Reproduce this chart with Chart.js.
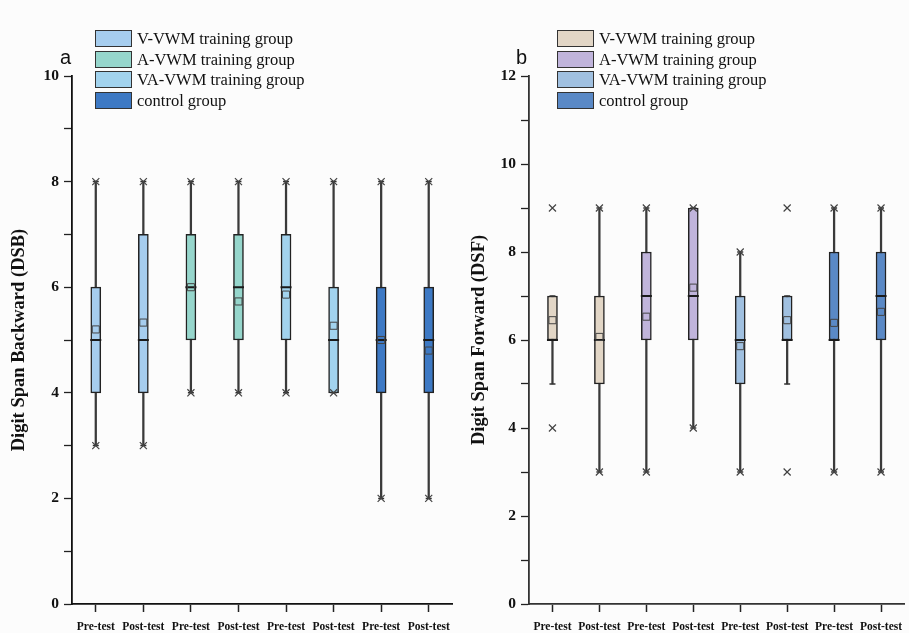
<!DOCTYPE html>
<html>
<head>
<meta charset="utf-8">
<script src="https://cdn.jsdelivr.net/npm/chart.js@4.4.1/dist/chart.umd.min.js"></script>
<style>
  html, body { margin: 0; padding: 0; background: #fcfcfc; width: 909px; height: 633px; overflow: hidden; }
  .wrap { position: absolute; top: 0; height: 633px; }
  #wrapA { left: 0; width: 460px; }
  #wrapB { left: 460px; width: 452px; }
  .panel { position: absolute; font-family: "Liberation Sans", Arial, sans-serif; font-size: 20px; color: #111; }
  .legend { position: absolute; font-family: "Liberation Serif", "Times New Roman", serif; font-size: 16.5px; color: #111; }
  .legend div { height: 20.5px; line-height: 20.5px; white-space: nowrap; }
  .legend span { display: inline-block; width: 35px; height: 15px; border: 1.5px solid #333; vertical-align: -3px; margin-right: 5px; }
</style>
</head>
<body>
<div class="wrap" id="wrapA"><canvas id="chartA"></canvas></div>
<div class="wrap" id="wrapB"><canvas id="chartB"></canvas></div>
<div class="panel" style="left:60px;top:46px;">a</div>
<div class="panel" style="left:516px;top:46px;">b</div>
<div class="legend" id="legendA" style="left:95px;top:29px;"></div>
<div class="legend" id="legendB" style="left:557px;top:29px;"></div>
<script>
// categories and groups
const categories = ["Pre-test", "Post-test", "Pre-test", "Post-test", "Pre-test", "Post-test", "Pre-test", "Post-test"]
const groups = ["V-VWM training group", "A-VWM training group", "VA-VWM training group", "control group"]

// panel a: Digit Span Backward
const dsbMin = [3, 3, 4, 4, 4, 4, 2, 2]
const dsbQ1 = [4, 4, 5, 5, 5, 4, 4, 4]
const dsbMedian = [5, 5, 6, 6, 6, 5, 5, 5]
const dsbQ3 = [6, 7, 7, 7, 7, 6, 6, 6]
const dsbMax = [8, 8, 8, 8, 8, 8, 8, 8]
const dsbMean = [5.2, 5.33, 6.0, 5.73, 5.86, 5.27, 5.0, 4.8]
const dsbTicks = [0, 2, 4, 6, 8, 10]

// panel b: Digit Span Forward
const dsfWhiskerLow = [5, 3, 3, 4, 3, 5, 3, 3]
const dsfQ1 = [6, 5, 6, 6, 5, 6, 6, 6]
const dsfMedian = [6, 6, 7, 7, 6, 6, 6, 7]
const dsfQ3 = [7, 7, 8, 9, 7, 7, 8, 8]
const dsfWhiskerHigh = [7, 9, 9, 9, 8, 7, 9, 9]
const dsfMean = [6.45, 6.07, 6.53, 7.19, 5.86, 6.45, 6.39, 6.64]
const dsfMarkLow = [4, 3, 3, 4, 3, 3, 3, 3]
const dsfMarkHigh = [9, 9, 9, 9, 8, 9, 9, 9]
const dsfTicks = [0, 2, 4, 6, 8, 10, 12]

const colorsA = ["#a6cdee", "#96d6cc", "#a2d3ee", "#3d79c4"]
const colorsB = ["#e2d6c6", "#c0b4db", "#a0c0e0", "#5a89c6"]

function perBox(colors) {
  // two boxes (pre/post) per group
  return categories.map((c, i) => colors[Math.floor(i / 2)])
}

function buildLegend(id, colors) {
  const el = document.getElementById(id)
  groups.forEach((g, i) => {
    const row = document.createElement("div")
    const sw = document.createElement("span")
    sw.style.background = colors[i]
    row.appendChild(sw)
    row.appendChild(document.createTextNode(g))
    el.appendChild(row)
  })
}
buildLegend("legendA", colorsA)
buildLegend("legendB", colorsB)

function points(data, style, radius, extra) {
  return Object.assign({
    type: "line",
    data: data,
    showLine: false,
    pointStyle: style,
    pointRadius: radius,
    pointHoverRadius: radius,
    pointBorderColor: "#333",
    pointBackgroundColor: "rgba(0,0,0,0)",
    pointBorderWidth: 1.3,
    order: 1,
  }, extra || {})
}

function makeChart(canvasId, opts) {
  const whiskers = opts.low.map((v, i) => [v, opts.high[i]])
  const boxes = opts.q1.map((v, i) => [v, opts.q3[i]])
  const datasets = [
    {
      data: whiskers,
      backgroundColor: "#3a3a3a",
      borderWidth: 0,
      barThickness: 1.6,
      grouped: false,
      order: 6,
    },
    {
      data: boxes,
      backgroundColor: perBox(opts.colors),
      borderColor: "#222",
      borderWidth: 1.5,
      borderSkipped: false,
      barThickness: 10,
      grouped: false,
      order: 5,
    },
    points(opts.median, "line", 5.5, { pointBorderWidth: 2, pointBorderColor: "#1a1a1a", order: 4 }),
    points(opts.mean, "rect", 5, { pointBorderColor: "#444", pointBorderWidth: 1, order: 3 }),
    points(opts.low, "line", 3, { pointBorderWidth: 1.5, order: 2 }),
    points(opts.high, "line", 3, { pointBorderWidth: 1.5, order: 2 }),
    points(opts.markLow, "crossRot", 5, { pointBorderWidth: 1.2, pointBorderColor: "#444" }),
    points(opts.markHigh, "crossRot", 5, { pointBorderWidth: 1.2, pointBorderColor: "#444" }),
  ]
  return new Chart(document.getElementById(canvasId), {
    type: "bar",
    data: { labels: categories, datasets: datasets },
    options: {
      responsive: true,
      maintainAspectRatio: false,
      animation: false,
      layout: { padding: { top: 76, right: opts.padRight, left: 0, bottom: 0 } },
      plugins: { legend: { display: false }, tooltip: { enabled: false } },
      scales: {
        x: {
          offset: true,
          border: { color: opts.axisColor, width: 1.8 },
          grid: { offset: false, drawOnChartArea: false, tickLength: 8, color: "#222", tickWidth: 1.5 },
          ticks: {
            color: "#111",
            padding: 8,
            maxRotation: 0,
            autoSkip: false,
            font: { family: "Liberation Serif", size: 11.5, weight: "bold" },
          },
          afterFit: function (scale) { scale.height = 29 },
        },
        y: {
          min: 0,
          max: opts.yMax,
          border: { color: opts.axisColor, width: 1.8 },
          grid: { drawOnChartArea: false, tickLength: 8, color: "#222", tickWidth: 1.3 },
          ticks: {
            stepSize: 1,
            color: "#111",
            padding: 5,
            font: { family: "Liberation Serif", size: 15.5, weight: "bold" },
            callback: function (v) { return opts.ticks.includes(v) ? v : "" },
          },
          title: {
            display: true,
            text: opts.title,
            color: "#111",
            padding: { top: 8, bottom: 0 },
            font: { family: "Liberation Serif", size: 18.5, weight: "bold" },
          },
          afterFit: function (scale) { scale.width = opts.yWidth },
        },
      },
    },
  })
}

makeChart("chartA", {
  colors: colorsA, low: dsbMin, high: dsbMax, q1: dsbQ1, q3: dsbQ3,
  median: dsbMedian, mean: dsbMean, markLow: dsbMin, markHigh: dsbMax,
  yMax: 10, ticks: dsbTicks, title: "Digit Span Backward (DSB)",
  yWidth: 72, padRight: 5, axisColor: "#111",
})

makeChart("chartB", {
  colors: colorsB, low: dsfWhiskerLow, high: dsfWhiskerHigh, q1: dsfQ1, q3: dsfQ3,
  median: dsfMedian, mean: dsfMean, markLow: dsfMarkLow, markHigh: dsfMarkHigh,
  yMax: 12, ticks: dsfTicks, title: "Digit Span Forward (DSF)",
  yWidth: 69, padRight: 0, axisColor: "#333",
})
</script>
</body>
</html>
